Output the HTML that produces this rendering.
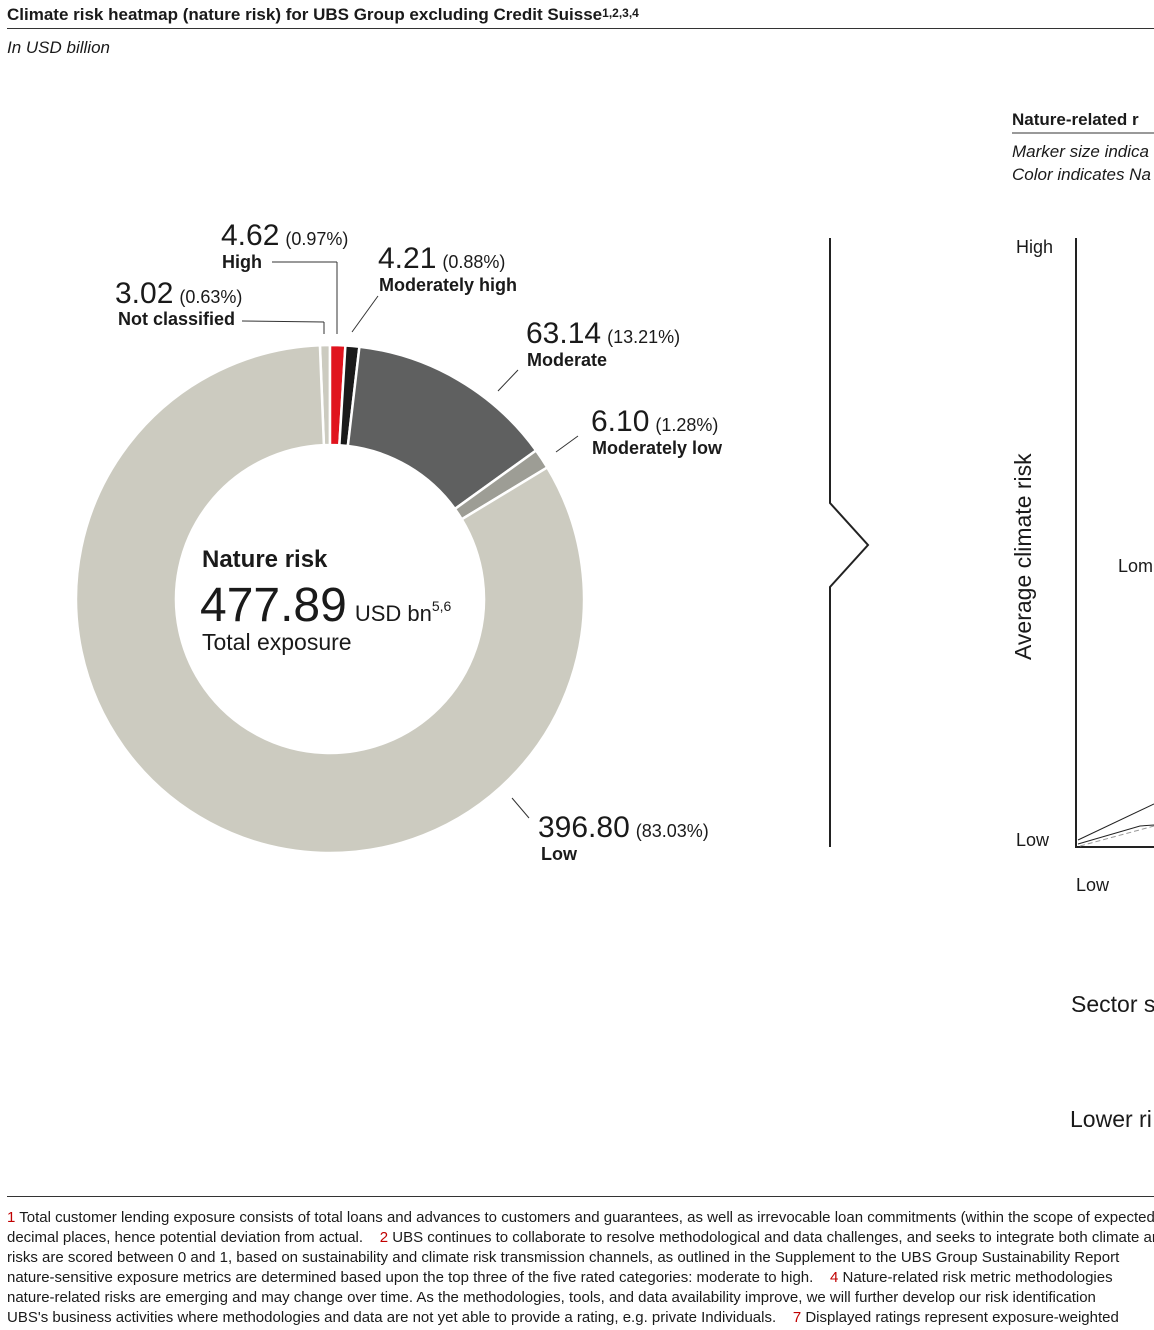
<!DOCTYPE html>
<html><head><meta charset="utf-8"><style>
body{margin:0;width:1154px;height:1330px;overflow:hidden;background:#fff;font-family:"Liberation Sans",sans-serif;color:#1a1a1a;position:relative}
.a{position:absolute;white-space:nowrap}
.fn{position:absolute;left:7px;top:1208px;width:1147px;overflow:hidden;font-family:"Liberation Sans Narrow","Liberation Sans",sans-serif;font-size:15px;line-height:20px}
.fn div{white-space:nowrap}
.r{color:#c00000}
</style></head><body>
<div class="a" style="left:7px;top:5px;font-size:17px;font-weight:bold">Climate risk heatmap (nature risk) for UBS Group excluding Credit Suisse<span style="font-size:12px;vertical-align:3px">1,2,3,4</span></div>
<div class="a" style="left:7px;top:28px;width:1147px;height:1px;background:#333"></div>
<div class="a" style="left:7px;top:38px;font-size:17px;font-style:italic">In USD billion</div>

<svg class="a" style="left:0;top:0" width="1154" height="1190">
<g id="donut"></g>
<g font-family="Liberation Sans,sans-serif" fill="#1a1a1a">
<text x="202" y="567" font-size="24" font-weight="bold">Nature risk</text>
<text x="200" y="621" font-size="48">477.89<tspan font-size="22" dx="8">USD bn</tspan><tspan font-size="14" dy="-10">5,6</tspan></text>
<text x="202" y="650" font-size="23">Total exposure</text>
</g>
<g id="labels" font-family="Liberation Sans,sans-serif" fill="#1a1a1a"></g>
<g stroke="#333" stroke-width="1" fill="none">
<line x1="272" y1="262" x2="337" y2="262"/><line x1="337" y1="262" x2="337" y2="334"/>
<line x1="242" y1="321" x2="324" y2="322"/><line x1="324" y1="322" x2="324" y2="334"/>
<line x1="378" y1="296" x2="352" y2="332"/>
<line x1="518" y1="370" x2="498" y2="391"/>
<line x1="578" y1="436" x2="556" y2="452"/>
<line x1="512" y1="798" x2="529" y2="818"/>
</g>
<path d="M830 238 V503 L868 545 L830 587 V847" stroke="#222" stroke-width="2" fill="none"/>
<g font-family="Liberation Sans,sans-serif" fill="#1a1a1a">
<text x="1012" y="125" font-size="17" font-weight="bold">Nature-related r</text>
<line x1="1012" y1="133" x2="1154" y2="133" stroke="#333"/>
<text x="1012" y="157" font-size="17" font-style="italic">Marker size indica</text>
<text x="1012" y="180" font-size="17" font-style="italic">Color indicates Na</text>
<text x="1016" y="253" font-size="18">High</text>
<text x="1016" y="846" font-size="18">Low</text>
<text x="1076" y="891" font-size="18">Low</text>
<text transform="translate(1031,660) rotate(-90)" font-size="23">Average climate risk</text>
<text x="1118" y="572" font-size="18">Lom</text>
<text x="1071" y="1012" font-size="23">Sector s</text>
<text x="1070" y="1127" font-size="23">Lower ri</text>
</g>
<g stroke="#222" fill="none">
<path d="M1076 238 V847 H1154" stroke-width="2"/>
<line x1="1078" y1="840" x2="1154" y2="804"/>
<polyline points="1078,844 1140,826 1154,825"/>
<line x1="1080" y1="846" x2="1154" y2="826" stroke="#999" stroke-dasharray="5,3"/>
</g>
</svg>

<div class="a" style="left:7px;top:1196px;width:1147px;height:1px;background:#333"></div>
<div class="fn">
<div><span class="r">1</span> Total customer lending exposure consists of total loans and advances to customers and guarantees, as well as irrevocable loan commitments (within the scope of expected credit loss) rounded to two</div>
<div>decimal places, hence potential deviation from actual. &nbsp;&nbsp;&nbsp;<span class="r">2</span> UBS continues to collaborate to resolve methodological and data challenges, and seeks to integrate both climate and nature</div>
<div>risks are scored between 0 and 1, based on sustainability and climate risk transmission channels, as outlined in the Supplement to the UBS Group Sustainability Report</div>
<div>nature-sensitive exposure metrics are determined based upon the top three of the five rated categories: moderate to high. &nbsp;&nbsp;&nbsp;<span class="r">4</span> Nature-related risk metric methodologies</div>
<div>nature-related risks are emerging and may change over time. As the methodologies, tools, and data availability improve, we will further develop our risk identification</div>
<div>UBS's business activities where methodologies and data are not yet able to provide a rating, e.g. private Individuals. &nbsp;&nbsp;&nbsp;<span class="r">7</span> Displayed ratings represent exposure-weighted</div>
</div>

<script>
const categories=["Not classified","High","Moderately high","Moderate","Moderately low","Low"];
const values=[3.02,4.62,4.21,63.14,6.10,396.80];
const percents=["0.63%","0.97%","0.88%","13.21%","1.28%","83.03%"];
const colors=["#cccbc0","#e0141e","#1a1a1a","#5f6060","#9d9d95","#cccbc0"];
const labelPos=[[115,303,118,325],[221,245,222,268],[378,268,379,291],[526,343,527,366],[591,431,592,454],[538,837,541,860]];
const cx=330,cy=599,R=254,r0=154;
const NS="http://www.w3.org/2000/svg";
const total=values.reduce((a,b)=>a+b,0);
let ang=-values[0]/total*2*Math.PI;
const g=document.getElementById('donut');
function pt(rad,a){return [cx+rad*Math.sin(a),cy-rad*Math.cos(a)];}
values.forEach((v,i)=>{
 const a0=ang,a1=ang+v/total*2*Math.PI;ang=a1;
 const large=(a1-a0)>Math.PI?1:0;
 const p1=pt(R,a0),p2=pt(R,a1),p3=pt(r0,a1),p4=pt(r0,a0);
 const p=document.createElementNS(NS,'path');
 p.setAttribute('d',`M${p1} A${R},${R} 0 ${large} 1 ${p2} L${p3} A${r0},${r0} 0 ${large} 0 ${p4}Z`);
 p.setAttribute('fill',colors[i]);p.setAttribute('stroke','#fff');p.setAttribute('stroke-width','2.5');
 
 
 g.appendChild(p);
});
const lg=document.getElementById('labels');
values.forEach((v,i)=>{
 const [x1,y1,x2,y2]=labelPos[i];
 const t=document.createElementNS(NS,'text');
 t.setAttribute('x',x1);t.setAttribute('y',y1);t.setAttribute('font-size','30');
 t.innerHTML=v.toFixed(2)+'<tspan font-size="18" dx="6">('+percents[i]+')</tspan>';
 
 
 lg.appendChild(t);
 const c=document.createElementNS(NS,'text');
 c.setAttribute('x',x2);c.setAttribute('y',y2);c.setAttribute('font-size','18');c.setAttribute('font-weight','bold');
 c.textContent=categories[i];
 
 
 lg.appendChild(c);
});
</script>
</body></html>
